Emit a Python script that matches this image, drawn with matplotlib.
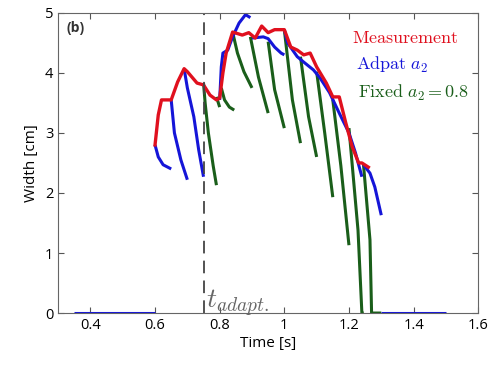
import matplotlib
matplotlib.use("Agg")
import matplotlib.pyplot as plt

plt.rcParams['font.family'] = ['Open Sans', 'DejaVu Sans']
plt.rcParams['mathtext.fontset'] = 'cm'

t_adapt = 0.75

# measured width
t_meas = [0.60, 0.61, 0.62, 0.65, 0.67, 0.69, 0.70, 0.73, 0.75, 0.77, 0.79, 0.80,
          0.81, 0.82, 0.84, 0.87, 0.89, 0.91, 0.93, 0.95, 0.97, 1.00, 1.02, 1.04,
          1.06, 1.08, 1.10, 1.13, 1.15, 1.17, 1.19, 1.21, 1.23, 1.24, 1.26]
w_meas = [2.80, 3.30, 3.55, 3.55, 3.85, 4.07, 4.02, 3.83, 3.80, 3.63, 3.55, 3.58,
          4.00, 4.33, 4.68, 4.63, 4.67, 4.58, 4.78, 4.67, 4.72, 4.72, 4.43, 4.38,
          4.30, 4.33, 4.10, 3.83, 3.60, 3.60, 3.17, 2.77, 2.50, 2.50, 2.43]

# adaptive a2 model, one branch per restart
adapt_branches = [
    ([0.35, 0.60], [0.0, 0.0]),
    ([0.60, 0.61, 0.625, 0.65], [2.80, 2.60, 2.47, 2.40]),
    ([0.65, 0.66, 0.68, 0.70], [3.55, 3.00, 2.55, 2.22]),
    ([0.69, 0.70, 0.72, 0.735, 0.75], [4.07, 3.75, 3.27, 2.72, 2.27]),
    ([0.80, 0.805, 0.81, 0.825, 0.84, 0.86, 0.88, 0.895],
     [3.55, 4.10, 4.33, 4.38, 4.60, 4.83, 4.97, 4.92]),
    ([0.90, 0.935, 0.95, 0.97, 0.99, 1.00], [4.58, 4.60, 4.57, 4.43, 4.33, 4.30]),
    ([1.00, 1.01, 1.04, 1.06, 1.09, 1.11, 1.14, 1.17, 1.20, 1.22, 1.24],
     [4.72, 4.50, 4.27, 4.18, 4.05, 3.92, 3.67, 3.33, 3.00, 2.67, 2.27]),
    ([1.245, 1.265, 1.28, 1.30], [2.47, 2.33, 2.10, 1.63]),
    ([1.30, 1.50], [0.0, 0.0]),
]

# fixed a2 = 0.8 model
fixed_branches = [
    ([0.75, 0.755, 0.765, 0.78, 0.79], [3.83, 3.50, 3.00, 2.45, 2.13]),
    ([0.79, 0.80], [3.60, 3.43]),
    ([0.805, 0.815, 0.83, 0.845], [3.75, 3.55, 3.43, 3.38]),
    ([0.84, 0.855, 0.875, 0.90], [4.68, 4.33, 4.02, 3.75]),
    ([0.895, 0.92, 0.95], [4.60, 3.93, 3.33]),
    ([0.95, 0.97, 1.00], [4.52, 3.72, 3.08]),
    ([1.00, 1.025, 1.05], [4.72, 3.55, 2.83]),
    ([1.05, 1.075, 1.10], [4.27, 3.27, 2.60]),
    ([1.10, 1.125, 1.15], [4.02, 3.00, 1.93]),
    ([1.15, 1.175, 1.20], [3.55, 2.45, 1.13]),
    ([1.20, 1.228, 1.24, 1.245], [3.08, 1.38, 0.0, 0.0]),
    ([1.245, 1.265, 1.27, 1.30], [2.47, 1.22, 0.0, 0.0]),
]

red = '#e0101e'
blue = '#1515d8'
green = '#1a5e1a'

fig = plt.figure(figsize=(4.88, 3.67), dpi=100)
ax = fig.add_axes([0.119, 0.147, 0.861, 0.818])

for t, w in fixed_branches:
    ax.plot(t, w, color=green, lw=2.2, solid_capstyle='butt')
for t, w in adapt_branches:
    ax.plot(t, w, color=blue, lw=2.2, solid_capstyle='butt')
ax.plot(t_meas, w_meas, color=red, lw=2.4)

ax.axvline(t_adapt, color='#444444', lw=1.3, dashes=(7, 4))
ax.text(t_adapt + 0.008, 0.08, r'$t_{adapt.}$', fontsize=20, color='#666666')
ax.text(0.325, 4.68, '(b)', fontsize=10, fontweight='bold', color='#333333')

labels = [(r'$\mathrm{Measurement}$', red, 1.21, 4.58),
          (r'$\mathrm{Adpat}\ a_2$', blue, 1.222, 4.13),
          (r'$\mathrm{Fixed}\ a_2 = 0.8$', green, 1.228, 3.67)]
for s, c, x, y in labels:
    ax.text(x, y, s, fontsize=13, color=c, va='center')

ax.set_xlim(0.3, 1.6)
ax.set_ylim(0, 5)
ax.set_xticks([0.4, 0.6, 0.8, 1.0, 1.2, 1.4, 1.6])
ax.set_xticklabels(['0.4', '0.6', '0.8', '1', '1.2', '1.4', '1.6'])
ax.set_yticks([0, 1, 2, 3, 4, 5])
ax.tick_params(direction='in', top=True, right=True, labelsize=10.5,
               length=4, color='#555555')
for sp in ax.spines.values():
    sp.set_color('#666666')
ax.set_xlabel('Time [s]', fontsize=11, labelpad=2)
ax.set_ylabel('Width [cm]', fontsize=11, labelpad=4)

fig.savefig('out.png', dpi=100)
